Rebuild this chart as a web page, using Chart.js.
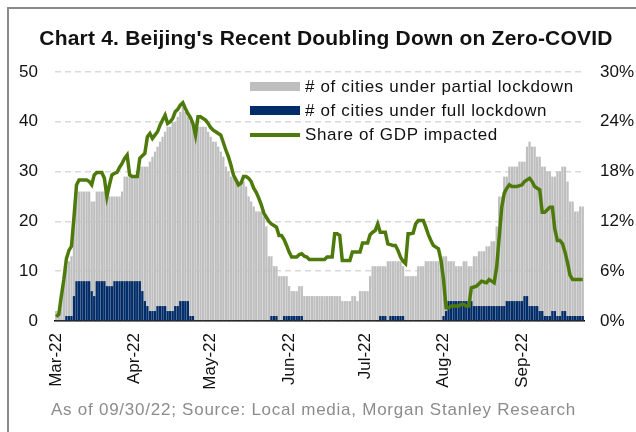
<!DOCTYPE html>
<html>
<head>
<meta charset="utf-8">
<script src="https://cdn.jsdelivr.net/npm/chart.js@4.4.0/dist/chart.umd.min.js"></script>
<style>
  body { margin: 0; background: #fff; font-family: "Liberation Sans", Arial, sans-serif; }
  #wrap { position: relative; width: 636px; height: 432px; overflow: hidden; }
  #frame { position: absolute; left: 7px; top: 7px; width: 700px; height: 500px; border: 2px solid #8a8a8a; }
  #title { position: absolute; left: 0; width: 652px; top: 26px; text-align: center; font-weight: bold; font-size: 21px; color: #111; letter-spacing: 0.2px; }
  #legend { position: absolute; left: 250px; top: 77px; font-size: 17px; color: #111; letter-spacing: 0.65px; }
  .row { position: relative; height: 24px; }
  .sw { position: absolute; left: 0; width: 50px; }
  .row span { position: absolute; left: 55px; top: 0; white-space: nowrap; }
  #note { position: absolute; left: 51px; top: 400px; font-size: 17px; color: #8c8c8c; white-space: nowrap; letter-spacing: 0.75px; }
  canvas { position: absolute; left: 0; top: 0; }
</style>
</head>
<body>
<div id="wrap">
  <div id="frame"></div>
  <canvas id="chart" width="636" height="432"></canvas>
  <div id="title">Chart 4. Beijing's Recent Doubling Down on Zero-COVID</div>
  <div id="legend">
    <div class="row"><div class="sw" style="top:5px;height:9px;background:#bfbfbf"></div><span># of cities under partial lockdown</span></div>
    <div class="row"><div class="sw" style="top:5px;height:9px;background:#002c6a"></div><span># of cities under full lockdown</span></div>
    <div class="row"><div class="sw" style="top:8px;height:4px;background:#4e7a0c"></div><span>Share of GDP impacted</span></div>
  </div>
  <div id="note">As of 09/30/22; Source: Local media, Morgan Stanley Research</div>
</div>
<script>
// daily values, 1 Mar 2022 - 25 Sep 2022
const startDate = "2022-03-01";
const monthNames = ["Jan", "Feb", "Mar", "Apr", "May", "Jun", "Jul", "Aug", "Sep", "Oct", "Nov", "Dec"];

// # of cities under partial lockdown (grey bar height)
const partialCities = [
  2, 2, 5, 9, 11, 12, 13, 19, 26, 26,
  26, 26, 26, 26, 24, 24, 26, 26, 26, 26,
  25, 25, 25, 25, 25, 25, 26, 29, 29, 29,
  29, 29, 29, 31, 31, 31, 31, 32, 33, 34,
  35, 36, 37, 38, 39, 39, 40, 40, 41, 42,
  43, 42, 41, 40, 39, 38, 39, 39, 39, 39,
  38, 37, 36, 36, 35, 34, 33, 31, 30, 29,
  29, 28, 28, 28, 28, 27, 25, 24, 23, 22,
  22, 22, 21, 19, 13, 13, 11, 11, 9, 9,
  9, 9, 7, 6, 6, 6, 7, 7, 5, 5,
  5, 5, 5, 5, 5, 5, 5, 5, 5, 5,
  5, 5, 5, 4, 4, 4, 4, 5, 5, 4,
  6, 6, 6, 6, 9, 11, 11, 11, 11, 11,
  11, 12, 12, 12, 12, 12, 12, 11, 9, 9,
  9, 9, 9, 11, 11, 11, 12, 12, 12, 12,
  12, 12, 12, 13, 13, 12, 12, 12, 11, 11,
  11, 12, 12, 11, 11, 13, 13, 14, 14, 14,
  15, 15, 16, 16, 19, 25, 25, 29, 29, 31,
  31, 31, 31, 32, 32, 32, 35, 36, 35, 35,
  33, 33, 31, 31, 30, 30, 29, 29, 30, 30,
  31, 31, 28, 24, 24, 22, 22, 23, 23
];

// # of cities under full lockdown
const fullCities = [
  0, 0, 0, 0, 1, 1, 1, 5, 8, 8,
  8, 8, 8, 8, 6, 5, 8, 8, 8, 8,
  7, 7, 7, 8, 8, 8, 8, 8, 8, 8,
  8, 8, 8, 8, 6, 4, 3, 2, 2, 2,
  3, 3, 3, 3, 2, 2, 2, 3, 3, 4,
  4, 4, 4, 1, 1, 0, 0, 0, 0, 0,
  0, 0, 0, 0, 0, 0, 0, 0, 0, 0,
  0, 0, 0, 0, 0, 0, 0, 0, 0, 0,
  0, 0, 0, 0, 0, 1, 1, 1, 0, 0,
  1, 1, 1, 1, 1, 1, 1, 1, 0, 0,
  0, 0, 0, 0, 0, 0, 0, 0, 0, 0,
  0, 0, 0, 0, 0, 0, 0, 0, 0, 0,
  0, 0, 0, 0, 0, 0, 0, 0, 1, 1,
  1, 0, 1, 1, 1, 1, 1, 1, 0, 0,
  0, 0, 0, 0, 0, 0, 0, 0, 0, 0,
  0, 0, 0, 1, 2, 4, 4, 4, 4, 4,
  4, 4, 4, 4, 4, 3, 3, 3, 3, 3,
  3, 3, 3, 3, 3, 3, 3, 3, 4, 4,
  4, 4, 4, 4, 4, 5, 5, 3, 3, 3,
  3, 2, 2, 1, 1, 1, 2, 2, 1, 1,
  2, 2, 1, 1, 1, 1, 1, 1, 1
];

// Share of GDP impacted (%)
const gdpShare = [
  0.5, 0.8, 3.0, 5.0, 7.5, 8.5, 9.0, 12.5, 16.4, 17.0,
  17.0, 17.0, 17.0, 16.8, 16.4, 17.6, 17.9, 17.9, 17.9, 17.2,
  15.0, 16.4, 17.6, 17.8, 17.9, 18.5, 19.0, 19.6, 20.0, 17.6,
  17.4, 17.4, 17.4, 19.6, 19.9, 20.2, 22.2, 22.6, 22.0, 22.4,
  22.8, 23.6, 24.2, 24.8, 23.8, 24.0, 24.4, 25.2, 25.5, 26.0,
  26.3, 25.6, 25.0, 24.5, 23.8, 22.4, 24.6, 24.6, 24.4, 24.2,
  23.8, 23.3, 23.0, 22.8, 22.6, 22.4, 21.5, 20.6, 19.8, 18.8,
  17.6, 17.0, 16.4, 16.6, 17.4, 17.4, 17.2, 16.8, 16.0, 15.5,
  14.8, 14.0, 13.0, 12.5, 12.0, 11.7, 11.5, 11.3, 10.3, 10.3,
  9.8, 9.1, 8.3, 7.7, 7.7, 7.7, 8.0, 8.1, 7.8, 7.7,
  7.4, 7.4, 7.4, 7.4, 7.4, 7.4, 7.4, 7.7, 7.7, 7.7,
  10.5, 10.5, 10.3, 7.3, 7.3, 7.3, 7.3, 8.3, 8.3, 8.3,
  8.3, 9.4, 9.4, 9.4, 10.4, 10.7, 10.9, 11.7, 10.7, 10.7,
  10.7, 9.3, 9.2, 9.1, 9.1, 8.5, 7.7, 7.2, 6.9, 10.5,
  10.5, 10.6, 11.7, 12.1, 12.1, 12.1, 11.3, 10.4, 9.7, 9.1,
  8.9, 8.7, 7.3, 5.0, 1.6, 1.6, 1.8, 1.8, 1.8, 1.8,
  2.0, 2.0, 1.8, 1.8, 4.0, 4.1, 4.2, 4.5, 4.8, 4.7,
  4.6, 5.0, 4.8, 4.6, 6.5, 10.1, 13.7, 15.4, 16.0, 16.4,
  16.2, 16.2, 16.2, 16.3, 16.4, 16.8, 17.0, 17.2, 16.8, 16.2,
  16.0, 15.8, 13.1, 13.1, 13.4, 13.7, 13.7, 11.0, 9.7, 9.7,
  9.3, 8.3, 7.0, 5.5, 5.0, 5.0, 5.0, 5.0, 5.0
];

const leftTicks = [0, 10, 20, 30, 40, 50];
const rightTicks = [0, 6, 12, 18, 24, 30];

// one category per day
const days = [];
const d0 = new Date(startDate + "T00:00:00");
for (let i = 0; i < gdpShare.length; i++) {
  const d = new Date(d0);
  d.setDate(d0.getDate() + i);
  days.push(d);
}
const labels = days.map((d) => d.toISOString().slice(0, 10));

const font = "'Liberation Sans', Arial, sans-serif";

new Chart(document.getElementById("chart"), {
  type: "bar",
  data: {
    labels: labels,
    datasets: [
      {
        type: "line",
        label: "Share of GDP impacted",
        data: gdpShare,
        yAxisID: "y1",
        borderColor: "#4e7a0c",
        borderWidth: 3.5,
        pointRadius: 0,
        tension: 0,
        order: 0,
      },
      {
        label: "# of cities under full lockdown",
        data: fullCities,
        backgroundColor: "#002c6a",
        barPercentage: 0.9,
        categoryPercentage: 1,
        order: 1,
      },
      {
        label: "# of cities under partial lockdown",
        data: partialCities,
        backgroundColor: "#bfbfbf",
        barPercentage: 0.9,
        categoryPercentage: 1,
        order: 2,
      },
    ],
  },
  options: {
    responsive: false,
    animation: false,
    layout: { padding: { top: 72, left: 0, right: 0, bottom: 0 } },
    plugins: { legend: { display: false }, tooltip: { enabled: false } },
    scales: {
      x: {
        stacked: true,
        grid: { display: false, drawTicks: false },
        border: { color: "#000", width: 1.5 },
        ticks: {
          autoSkip: false,
          maxRotation: 90,
          minRotation: 90,
          padding: 12,
          color: "#111",
          font: { family: font, size: 17 },
          callback: function (val, i) {
            const d = days[i];
            if (d.getDate() !== 1) return null;
            return monthNames[d.getMonth()] + "-" + String(d.getFullYear()).slice(2);
          },
        },
        afterFit: (s) => { s.height = 111; },
      },
      y: {
        min: 0,
        max: 50,
        afterBuildTicks: (s) => { s.ticks = leftTicks.map((v) => ({ value: v })); },
        grid: { color: "#d9d9d9", lineWidth: 1.5, drawTicks: false },
        border: { display: false, dash: [6, 4] },
        ticks: { padding: 17, color: "#111", font: { family: font, size: 17 } },
        afterFit: (s) => { s.width = 55; },
      },
      y1: {
        position: "right",
        min: 0,
        max: 30,
        afterBuildTicks: (s) => { s.ticks = rightTicks.map((v) => ({ value: v })); },
        grid: { display: false, drawTicks: false },
        border: { display: false },
        ticks: {
          padding: 16,
          color: "#111",
          font: { family: font, size: 17 },
          callback: (v) => v + "%",
        },
        afterFit: (s) => { s.width = 52; },
      },
    },
  },
});
</script>
</body>
</html>
